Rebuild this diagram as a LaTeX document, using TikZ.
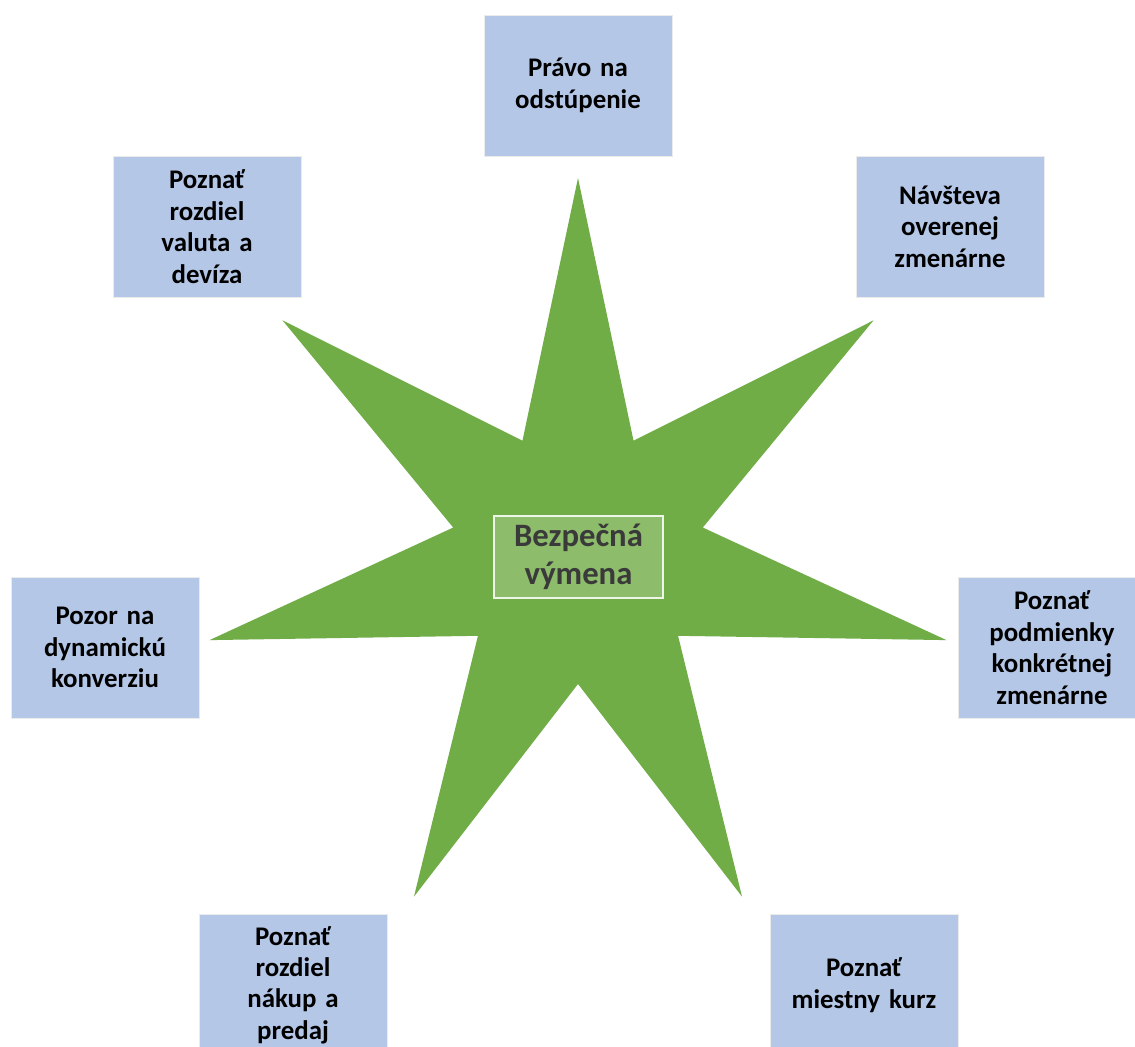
\documentclass[tikz,border=0pt]{standalone}
\usepackage{fontspec}
\setmainfont[WordSpace=0.8]{Carlito}
\usepackage{tikz}
\usetikzlibrary{positioning}

\definecolor{stargreen}{HTML}{70AD47}
\definecolor{centergreen}{HTML}{8DBC6B}
\definecolor{boxblue}{HTML}{B4C7E7}
\definecolor{darktext}{HTML}{3A3A3A}

\tikzset{
  tipbox/.style={fill=boxblue, draw=white!92!black, line width=0.3pt,
    minimum width=3.76cm, minimum height=2.82cm, text width=3.5cm,
    align=center, font=\fontsize{15.3}{17.9}\selectfont\bfseries},
  hubbox/.style={fill=centergreen, draw=white!85!centergreen, line width=0.6pt,
    minimum width=3.38cm, minimum height=1.64cm, align=center,
    text=darktext, font=\fontsize{18.6}{21.5}\selectfont\bfseries}
}

\begin{document}
\begin{tikzpicture}[x=0.02cm, y=-0.02cm]
      \clip (0, 0) rectangle (1135, 1046);
      \fill[white] (0, 0) rectangle (1135, 1046);

      % seven pointed star
      \begin{scope}[shift={(578, 556)}]
        \fill[stargreen] (-90:378)
          \foreach \i in {0,...,6} {
            -- ({-90 + \i*360/7 + 180/7}:128) -- ({-90 + (\i+1)*360/7}:378)
          } -- cycle;
      \end{scope}

      \node[hubbox] (hub) at (578.5, 557) {Bezpečná\\výmena};

      \node[tipbox] (pravo) at (578, 85.5) {Právo na\\odstúpenie};
      \node[tipbox] (navsteva) at (950, 226.5) {Návšteva\\overenej\\zmenárne};
      \node[tipbox] (podmienky) at (1052, 647.5) {Poznať\\podmienky\\konkrétnej\\zmenárne};
      \node[tipbox] (kurz) at (864, 985) {Poznať\\miestny kurz};
      \node[tipbox] (nakup) at (293, 985) {Poznať\\rozdiel\\nákup a\\predaj};
      \node[tipbox] (konverzia) at (105, 647.5) {Pozor na\\dynamickú\\konverziu};
      \node[tipbox] (valuta) at (207, 226.5) {Poznať\\rozdiel\\valuta a\\devíza};
\end{tikzpicture}
\end{document}
